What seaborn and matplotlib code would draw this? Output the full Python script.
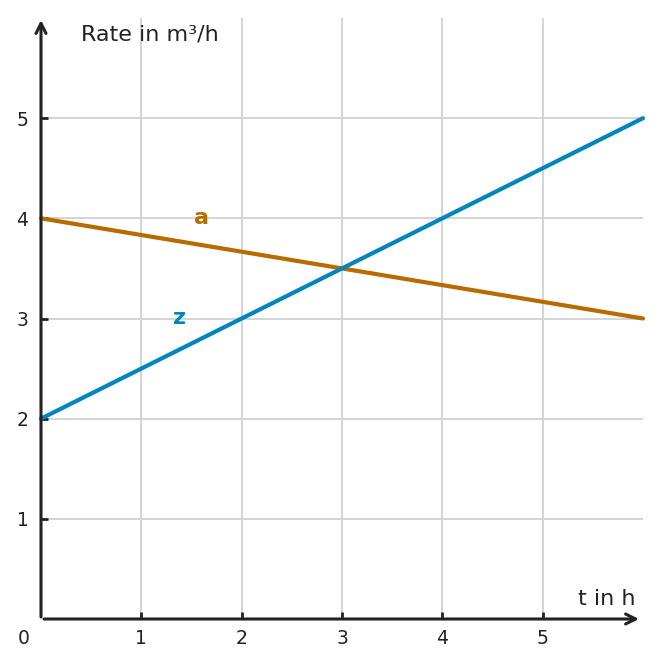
import matplotlib
matplotlib.use("Agg")
import matplotlib.pyplot as plt
import seaborn as sns
import pandas as pd

# values
t = [0, 6]
a = [4, 3]
z = [2, 5]
tick_vals = [1, 2, 3, 4, 5]

ORANGE = "#b96a00"
BLUE = "#0086bd"
INK = "#222222"

sns.set_theme(style="whitegrid")
plt.rcParams["font.family"] = ["DejaVu Sans"]

df = pd.DataFrame({"t": t, "a": a, "z": z})

fig = plt.figure(figsize=(6.61, 6.68), dpi=100)
ax = fig.add_axes([41 / 661, 49 / 668, 602 / 661, 601 / 668])

sns.lineplot(data=df, x="t", y="a", color=ORANGE, lw=3, ax=ax, zorder=5, clip_on=False)
sns.lineplot(data=df, x="t", y="z", color=BLUE, lw=3, ax=ax, zorder=5, clip_on=False)

ax.set_xlim(0, 6)
ax.set_ylim(0, 6)
ax.set_xticks(tick_vals)
ax.set_yticks(tick_vals)
ax.set_xlabel("")
ax.set_ylabel("")
ax.grid(True, color="#d4d4d4", lw=1.4)
for s in ax.spines.values():
    s.set_visible(False)

ax.tick_params(axis="both", direction="in", length=5, width=2, color=INK,
               labelsize=13.5, labelcolor=INK, bottom=True, left=True)
ax.tick_params(axis="x", pad=7)
ax.tick_params(axis="y", pad=9)

# axes with arrow heads
arrow = dict(arrowstyle="->", lw=2.2, color=INK, mutation_scale=18,
             shrinkA=0, shrinkB=0)
ax.annotate("", xy=(5.96, 0), xytext=(0.03, 0), arrowprops=arrow,
            annotation_clip=False, zorder=6)
ax.annotate("", xy=(0, 5.98), xytext=(0, 0.02), arrowprops=arrow,
            annotation_clip=False, zorder=6)

ax.text(-0.17, -0.19, "0", fontsize=13.5, color=INK, ha="center", va="center",
        clip_on=False)
ax.text(0.4, 5.84, "Rate in m³/h", fontsize=16, color=INK, ha="left", va="center")
ax.text(5.93, 0.2, "t in h", fontsize=16, color=INK, ha="right", va="center")
ax.text(1.6, 4.0, "a", fontsize=16, color=ORANGE, fontweight="bold",
        ha="center", va="center")
ax.text(1.38, 3.0, "z", fontsize=16, color=BLUE, fontweight="bold",
        ha="center", va="center")

fig.savefig("out.png", dpi=100)
